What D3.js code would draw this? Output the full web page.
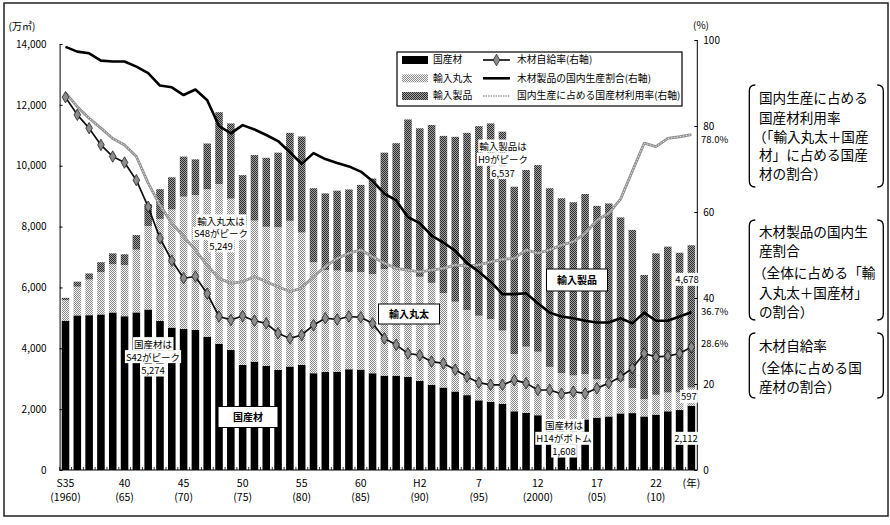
<!DOCTYPE html>
<html>
<head>
<meta charset="utf-8">
<script src="https://cdn.jsdelivr.net/npm/d3@7"></script>
<style>
  body{margin:0;background:#fff}
  svg{display:block}
  text{font-family:"Noto Sans CJK JP","Noto Sans",sans-serif;fill:#000}
</style>
</head>
<body>
<svg id="chart" width="890" height="525"></svg>
<script>
// 木材供給量（万㎥）と自給率など（%）
const years = [1960,1961,1962,1963,1964,1965,1966,1967,1968,1969,
  1970,1971,1972,1973,1974,1975,1976,1977,1978,1979,
  1980,1981,1982,1983,1984,1985,1986,1987,1988,1989,
  1990,1991,1992,1993,1994,1995,1996,1997,1998,1999,
  2000,2001,2002,2003,2004,2005,2006,2007,2008,2009,
  2010,2011,2012,2013];

const domestic = [4906,5081,5088,5112,5178,5053,5180,5274,4896,4680,
  4635,4600,4380,4150,3950,3456,3560,3420,3290,3400,
  3456,3180,3230,3230,3310,3300,3180,3100,3100,3060,
  2930,2800,2710,2580,2460,2290,2240,2170,1930,1880,
  1800,1690,1608,1670,1660,1720,1760,1860,1870,1760,
  1820,1930,1970,2112];

const importLogs = [680,942,1172,1390,1586,1683,2061,2746,3356,3882,
  4347,4436,4848,5249,4968,4315,4637,4573,4689,4788,
  4348,3645,3342,3325,3199,3203,3258,3500,3500,3490,
  3420,3350,3100,2950,2800,2780,2720,2413,1878,2172,
  2088,1699,1580,1436,1487,1257,1245,1070,820,570,
  650,617,579,597];

const importProducts = [72,167,200,328,356,354,479,720,978,1058,
  1318,1174,1502,2359,2472,1919,2153,2267,2451,2892,
  3156,2435,2518,2625,2711,2867,3142,3830,4140,4970,
  4880,5190,5170,5420,5820,6230,6430,6537,5502,5808,
  6132,5871,5742,5694,5923,5703,5755,5370,5200,4080,
  4650,4793,4591,4678];

// 木材自給率（右軸）
const selfRate = [86.7,82.6,79.5,75.6,72.9,71.5,67.4,61.2,53.9,48.7,
  44.6,45.0,41.0,35.7,34.9,35.8,34.7,34.1,31.8,30.6,
  31.4,33.7,35.3,35.0,35.7,35.5,34.1,30.6,29.1,27.1,
  26.7,25.2,24.8,23.3,21.7,20.3,19.8,19.8,20.9,20.2,
  18.6,18.6,17.7,18.2,17.8,19.0,20.2,21.7,23.7,27.1,
  26.3,26.5,27.1,28.6];

// 木材製品の国内生産割合（右軸）
const prodShare = [98.4,97.3,96.9,95.2,95.0,95.0,93.8,92.3,89.4,89.0,
  87.2,88.5,86.0,80.0,78.3,80.2,79.2,77.9,76.5,73.9,
  71.2,73.7,72.3,71.4,70.6,69.4,67.2,64.3,62.7,58.8,
  57.4,54.5,52.9,51.0,48.1,46.1,43.8,40.9,40.9,41.1,
  38.8,36.6,35.7,35.3,34.7,34.3,34.3,35.3,34.1,36.6,
  34.7,34.7,35.7,36.7];

// 国内生産に占める国産材利用率（右軸）
const useRate = [87.7,84.5,81.8,79.5,77.1,75.6,72.9,66.7,61.6,57.4,
  54.3,51.2,47.5,44.6,43.4,43.8,45.0,43.8,42.6,41.5,
  42.3,45.0,47.3,49.2,50.4,51.2,49.6,48.1,46.9,46.5,
  46.1,46.5,46.9,47.7,47.4,47.7,48.4,49.0,49.2,51.2,
  50.4,51.2,52.3,53.1,55.0,58.1,59.7,63.0,69.5,76.0,
  75.2,77.1,77.5,78.0];

const tickYears = [1960,1965,1970,1975,1980,1985,1990,1995,2000,2005,2010];
const tickTop = ["S35","40","45","50","55","60","H2","7","12","17","22"];
const tickBottom = ["(1960)","(65)","(70)","(75)","(80)","(85)","(90)","(95)","(2000)","(05)","(10)"];
const leftTicks = [0,2000,4000,6000,8000,10000,12000,14000];
const rightTicks = [0,20,40,60,80,100];

const svg = d3.select("#chart");
const defs = svg.append("defs");

function checker(id, a, b){
  const p = defs.append("pattern").attr("id",id).attr("width",2).attr("height",2).attr("patternUnits","userSpaceOnUse");
  p.append("rect").attr("width",2).attr("height",2).attr("fill",a);
  p.append("rect").attr("width",1).attr("height",1).attr("fill",b);
  p.append("rect").attr("x",1).attr("y",1).attr("width",1).attr("height",1).attr("fill",b);
}
checker("pat-logs","#f4f4f4","#8a8a8a");
checker("pat-prod","#a0a0a0","#2e2e2e");

// frame
svg.append("rect").attr("x",4).attr("y",3).attr("width",884).attr("height",513)
  .attr("fill","none").attr("stroke","#222").attr("stroke-width",1.5);

const x = d3.scaleBand().domain(years).range([59.6,697.3]).paddingInner(0.36).paddingOuter(0.18);
const yL = d3.scaleLinear().domain([0,14000]).range([470,44]);
const yR = d3.scaleLinear().domain([0,100]).range([470,40]);
const cx = yr => x(yr) + x.bandwidth()/2;

// bars
const table = years.map((yr,i)=>({year:yr, dom:domestic[i], logs:importLogs[i], prod:importProducts[i]}));
const series = d3.stack().keys(["dom","logs","prod"])(table);
const fills = {dom:"#000", logs:"url(#pat-logs)", prod:"url(#pat-prod)"};

svg.append("g").selectAll("g").data(series).join("g")
  .attr("fill",d=>fills[d.key])
  .selectAll("rect").data(d=>d).join("rect")
  .attr("x",d=>x(d.data.year)).attr("width",x.bandwidth())
  .attr("y",d=>yL(d[1])).attr("height",d=>yL(d[0])-yL(d[1]));

// axes
const axL = svg.append("g").attr("transform","translate(59.6,0)")
  .call(d3.axisLeft(yL).tickValues(leftTicks).tickSize(-3).tickSizeOuter(0).tickPadding(13).tickFormat(d3.format(",")));
const axR = svg.append("g").attr("transform","translate(697.3,0)")
  .call(d3.axisRight(yR).tickValues(rightTicks).tickSize(-3).tickSizeOuter(0).tickPadding(6));
[axL,axR].forEach(a=>{
  a.selectAll("text").attr("font-size",10).attr("font-family",'"Noto Sans CJK JP",sans-serif');
  a.selectAll("path,line").attr("stroke","#000");
});
axR.select(".domain").attr("d","M0,470V40");

const axB = svg.append("g").attr("transform","translate(0,470)");
axB.append("line").attr("x1",59.6).attr("x2",697.3).attr("stroke","#000").attr("stroke-width",1.2);
axB.selectAll("line.tk").data(years).join("line").attr("class","tk")
  .attr("x1",d=>x(d)-2).attr("x2",d=>x(d)-2).attr("y1",0).attr("y2",-3)
  .attr("stroke","#000").attr("stroke-width",0.8);
axB.selectAll("text.t1").data(tickYears).join("text").attr("class","t1")
  .attr("x",d=>cx(d)).attr("y",17).attr("text-anchor","middle").attr("font-size",10.5)
  .text((d,i)=>tickTop[i]);
axB.selectAll("text.t2").data(tickYears).join("text").attr("class","t2")
  .attr("x",d=>cx(d)).attr("y",31).attr("text-anchor","middle").attr("font-size",10.5)
  .text((d,i)=>tickBottom[i]);
axB.append("text").attr("x",cx(2013)).attr("y",17).attr("text-anchor","middle").attr("font-size",10.5).text("(年)");

svg.append("text").attr("x",22).attr("y",30).attr("text-anchor","middle").attr("font-size",10).text("(万㎥)");
svg.append("text").attr("x",701).attr("y",29).attr("text-anchor","middle").attr("font-size",10).text("(%)");

// lines
const lineR = d3.line().x((d,i)=>cx(years[i])).y(d=>yR(d));

svg.append("path").attr("d",lineR(useRate)).attr("fill","none")
  .attr("stroke","#8f8f8f").attr("stroke-width",2.8).attr("stroke-linejoin","round");
svg.append("path").attr("d",lineR(useRate)).attr("fill","none")
  .attr("stroke","#ececec").attr("stroke-width",1).attr("stroke-dasharray","1.5 1.5");

svg.append("path").attr("d",lineR(prodShare)).attr("fill","none")
  .attr("stroke","#000").attr("stroke-width",2.6).attr("stroke-linejoin","round");

svg.append("path").attr("d",lineR(selfRate)).attr("fill","none")
  .attr("stroke","#111").attr("stroke-width",1.7).attr("stroke-linejoin","round");
const diamond = d3.symbol().type(d3.symbolDiamond).size(38);
svg.append("g").selectAll("path").data(selfRate).join("path")
  .attr("d",diamond)
  .attr("transform",(d,i)=>"translate("+cx(years[i])+","+yR(d)+")")
  .attr("fill","#8c8c8c").attr("stroke","#222").attr("stroke-width",0.8);

// annotations
const notes = svg.append("g");
function label(lines, cxPos, centers, size){
  lines.forEach((t,i)=>{
    const g = notes.append("g");
    const tx = g.append("text").attr("x",cxPos).attr("y",centers[i]).attr("dy","0.35em")
      .attr("text-anchor","middle").attr("font-size",size||9.5).text(t);
    const b = tx.node().getBBox();
    g.insert("rect","text").attr("x",b.x-1).attr("y",b.y+0.5).attr("width",b.width+2).attr("height",b.height-1).attr("fill","#fff");
  });
}
function boxed(t, cxPos, cyPos, w, h){
  notes.append("rect").attr("x",cxPos-w/2).attr("y",cyPos-h/2).attr("width",w).attr("height",h)
    .attr("fill","#fff").attr("stroke","#000").attr("stroke-width",1);
  notes.append("text").attr("x",cxPos).attr("y",cyPos).attr("dy","0.35em").attr("text-anchor","middle")
    .attr("font-size",10).attr("font-weight","bold").text(t);
}
label(["輸入丸太は","S48がピーク","5,249"], 221, [221.5,234,246.5]);
label(["国産材は","S42がピーク","5,274"], 153, [344.3,357.3,370.7]);
label(["輸入製品は","H9がピーク","6,537"], 503, [146.7,160,173.3]);
label(["国産材は","H14がボトム","1,608"], 564, [426,439,451.7]);
label(["4,678"], 687, [280]);
label(["597"], 689, [397]);
label(["2,112"], 686, [439]);
boxed("国産材", 248, 417, 60, 21);
boxed("輸入丸太", 409, 314, 61, 20);
boxed("輸入製品", 577, 280, 61, 22);

svg.append("text").attr("x",701).attr("y",140).attr("dy","0.35em").attr("font-size",9.5).text("78.0%");
svg.append("text").attr("x",701).attr("y",312).attr("dy","0.35em").attr("font-size",9.5).text("36.7%");
svg.append("text").attr("x",701).attr("y",344).attr("dy","0.35em").attr("font-size",9.5).text("28.6%");

// legend
const lg = svg.append("g");
lg.append("rect").attr("x",397).attr("y",52).attr("width",285).attr("height",54)
  .attr("fill","#fff").attr("stroke","#000").attr("stroke-width",1.2);
const rowsY = [60,78.3,96];
const barKeys = [["国産材","#000"],["輸入丸太","url(#pat-logs)"],["輸入製品","url(#pat-prod)"]];
barKeys.forEach((k,i)=>{
  lg.append("rect").attr("x",402).attr("y",rowsY[i]-4).attr("width",26).attr("height",8).attr("fill",k[1]);
  lg.append("text").attr("x",433).attr("y",rowsY[i]).attr("dy","0.35em").attr("font-size",9.8).text(k[0]);
});
lg.append("line").attr("x1",483).attr("x2",510).attr("y1",rowsY[0]).attr("y2",rowsY[0]).attr("stroke","#111").attr("stroke-width",1.7);
lg.append("path").attr("d",diamond).attr("transform","translate(496.5,"+rowsY[0]+")")
  .attr("fill","#8c8c8c").attr("stroke","#222").attr("stroke-width",0.8);
lg.append("line").attr("x1",483).attr("x2",510).attr("y1",rowsY[1]).attr("y2",rowsY[1]).attr("stroke","#000").attr("stroke-width",2.6);
lg.append("line").attr("x1",483).attr("x2",510).attr("y1",rowsY[2]).attr("y2",rowsY[2]).attr("stroke","#999").attr("stroke-width",1.4).attr("stroke-dasharray","1.5 1");
const lineKeys = ["木材自給率(右軸)","木材製品の国内生産割合(右軸)","国内生産に占める国産材利用率(右軸)"];
lineKeys.forEach((t,i)=>{
  lg.append("text").attr("x",517).attr("y",rowsY[i]).attr("dy","0.35em").attr("font-size",9.8).text(t);
});

// side notes
const side = svg.append("g");
function bracket(top, bottom){
  const l = 749.3, r = 883.3;
  side.append("path").attr("fill","none").attr("stroke","#000").attr("stroke-width",1.3)
    .attr("d","M"+(l+6)+","+top+" Q"+l+","+top+" "+l+","+(top+6)+" V"+(bottom-6)+" Q"+l+","+bottom+" "+(l+6)+","+bottom);
  side.append("path").attr("fill","none").attr("stroke","#000").attr("stroke-width",1.3)
    .attr("d","M"+(r-6)+","+top+" Q"+r+","+top+" "+r+","+(top+6)+" V"+(bottom-6)+" Q"+r+","+bottom+" "+(r-6)+","+bottom);
}
function sideText(lines, centers){
  lines.forEach((t,i)=>{
    // full-width opening bracket has its ink on the right half
    const dx = t.startsWith("（") ? -6 : 0;
    side.append("text").attr("x",759+dx).attr("y",centers[i]).attr("dy","0.35em").attr("font-size",13.6).text(t);
  });
}
bracket(85,187);
sideText(["国内生産に占める","国産材利用率","（「輸入丸太＋国産","材」に占める国産","材の割合）"],[98.5,118,137,155.5,174]);
bracket(220,320);
sideText(["木材製品の国内生","産割合","（全体に占める「輸","入丸太＋国産材」","の割合）"],[232,251.5,273.3,293.3,312]);
bracket(333,398);
sideText(["木材自給率","（全体に占める国","産材の割合）"],[346.7,368.3,387]);
</script>
</body>
</html>
